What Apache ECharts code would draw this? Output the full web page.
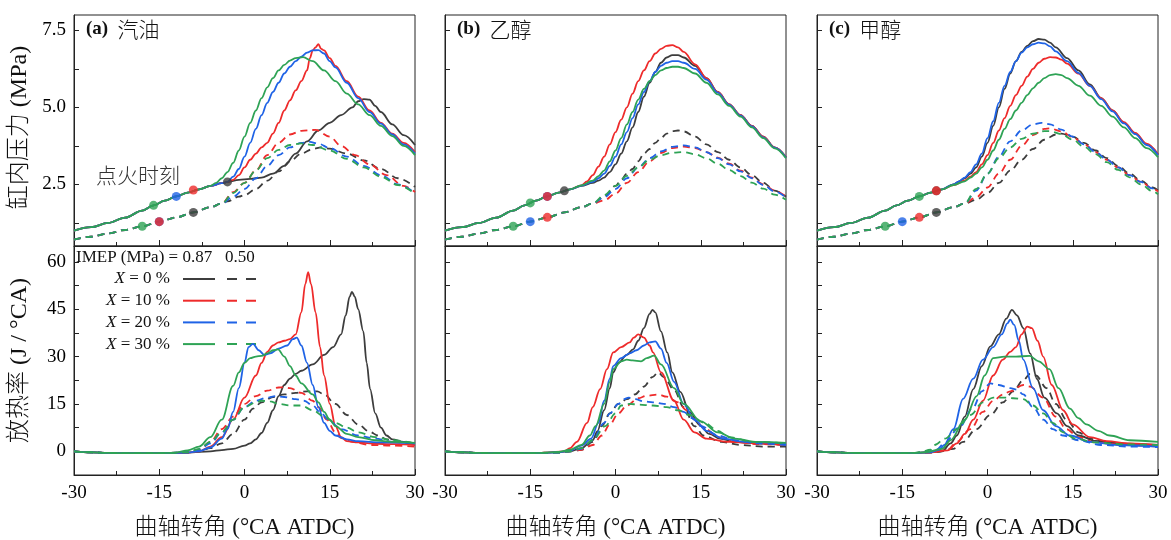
<!DOCTYPE html>
<html>
<head>
<meta charset="utf-8">
<title>缸内压力与放热率</title>
<script src="https://cdn.jsdelivr.net/npm/echarts@6/dist/echarts.min.js"></script>
<style>
  html, body { margin: 0; padding: 0; background: #fff; }
  #main { width: 1171px; height: 540px; }
</style>
</head>
<body>
<div id="main"></div>
<script>
// ---- data (x = °CA ATDC) ----
const xTicks = [-30, -15, 0, 15, 30];
const pLabels = [2.5, 5.0, 7.5];
const pTicks = [1.25, 2.5, 3.75, 5.0, 6.25, 7.5];
const hLabels = [0, 15, 30, 45, 60];
const hTicks = [0, 7.5, 15, 22.5, 30, 37.5, 45, 52.5, 60];
const fuels = ['汽油', '乙醇', '甲醇'];
const tags = ['(a)', '(b)', '(c)'];
const xRatios = ['0', '10', '20', '30'];
const colors = ['#3d3d3d', '#ee2b2b', '#1f63e6', '#2ea355'];

// compression parts shared before ignition
const pBaseHi = [[-30,1.0],[-27,1.11],[-24,1.25],[-21,1.42],[-18,1.65],[-16,1.82],[-14,1.97],[-12,2.11],[-10,2.23],[-8,2.34],[-6,2.45],[-4,2.54],[-3,2.58]];
const pBaseLo = [[-30,0.71],[-27,0.8],[-24,0.91],[-21,1.02],[-18,1.14],[-15,1.29],[-12,1.43],[-9,1.59],[-6,1.76],[-4,1.88]];
const hBase = [[-30,0],[-27,-0.3],[-24,-0.5],[-20,-0.6],[-16,-0.6],[-13,-0.5]];

// (a) 汽油 pressure, IMEP 0.87 (solid)
const pA_K = [[-1,2.65],[1,2.68],[3,2.72],[5,2.85],[7,3.1],[9,3.5],[11,3.9],[13,4.25],[15,4.5],[17,4.75],[19,5.0],[20,5.2],[21,5.27],[22,5.25],[23,5.05],[24,4.85],[26,4.45],[28,4.1],[30,3.78]];
const pA_R = [[-2,2.65],[-1,2.8],[0,3.05],[1,3.3],[2,3.5],[3,3.7],[4,3.85],[5,4.15],[6,4.5],[7,4.9],[8,5.23],[9,5.55],[10,5.85],[11,6.2],[11.5,6.6],[12,6.85],[12.5,6.95],[13,7.05],[13.5,6.9],[14,6.85],[15,6.6],[16,6.35],[18,5.85],[20,5.35],[22,4.9],[24,4.5],[26,4.15],[28,3.85],[30,3.55]];
const pA_B = [[-2,2.75],[-1,3.0],[0,3.4],[1,3.85],[2,4.3],[3,4.75],[4,5.15],[5,5.5],[6,5.8],[7,6.1],[8,6.32],[9,6.5],[10,6.65],[11,6.78],[12,6.85],[13,6.86],[14,6.75],[15,6.5],[16,6.3],[18,5.8],[20,5.3],[22,4.85],[24,4.47],[26,4.12],[28,3.8],[30,3.5]];
const pA_G = [[-5,2.55],[-4,2.7],[-3,2.9],[-2,3.2],[-1,3.6],[0,4.05],[1,4.5],[2,4.9],[3,5.3],[4,5.65],[5,5.95],[6,6.2],[7,6.38],[8,6.52],[9,6.6],[10.3,6.63],[12,6.5],[14,6.2],[16,5.85],[18,5.45],[20,5.1],[22,4.75],[24,4.4],[26,4.07],[28,3.75],[30,3.45]];
// (a) 汽油 pressure, IMEP 0.50 (dashed)
const pA_k = [[-3,1.95],[-1,2.1],[0,2.15],[2,2.35],[4,2.62],[6,2.92],[8,3.25],[10,3.5],[12,3.65],[13.5,3.7],[15,3.66],[18,3.5],[21,3.28],[24,3.0],[27,2.7],[30,2.42]];
const pA_r = [[-2,2.25],[0,2.55],[2,2.95],[4,3.45],[6,3.85],[8,4.12],[10,4.24],[12.5,4.27],[15,4.05],[17,3.75],[19.5,3.45],[22,3.15],[25,2.8],[28,2.45],[30,2.25]];
const pA_b = [[-2,2.1],[0,2.35],[2,2.7],[4,3.1],[6,3.45],[8,3.7],[10,3.85],[11.5,3.88],[13,3.82],[15,3.68],[18,3.4],[21,3.1],[24,2.8],[27,2.5],[30,2.22]];
const pA_g = [[-2,2.22],[0,2.55],[2,2.95],[4,3.35],[6,3.62],[8,3.78],[10,3.83],[12,3.78],[15,3.6],[18,3.33],[21,3.05],[24,2.75],[27,2.48],[30,2.2]];

// (b) 乙醇 pressure
const pB_K = [[-6,2.45],[-4,2.55],[-3,2.62],[-2,2.72],[-1,2.9],[0,3.15],[1,3.5],[2,3.9],[3,4.35],[4,4.85],[5,5.35],[6,5.8],[7,6.15],[8,6.45],[9,6.62],[10,6.7],[11,6.7],[12,6.62],[14,6.35],[16,5.95],[18,5.5],[20,5.1],[22,4.75],[24,4.4],[26,4.05],[28,3.7],[30,3.38]];
const pB_R = [[-6,2.47],[-5,2.6],[-4,2.8],[-3,3.08],[-2,3.4],[-1,3.8],[0,4.2],[1,4.6],[2,5.0],[3,5.45],[4,5.85],[5,6.2],[6,6.5],[7,6.75],[8,6.9],[9,7.0],[10,7.02],[11,6.95],[12,6.8],[14,6.4],[16,5.95],[18,5.5],[20,5.1],[22,4.75],[24,4.4],[26,4.05],[28,3.7],[30,3.38]];
const pB_B = [[-6,2.46],[-4,2.58],[-3,2.7],[-2,2.85],[-1,3.1],[0,3.4],[1,3.8],[2,4.2],[3,4.65],[4,5.1],[5,5.5],[6,5.85],[7,6.15],[8,6.35],[9,6.45],[10,6.5],[11,6.5],[12,6.45],[14,6.25],[16,5.9],[18,5.48],[20,5.08],[22,4.73],[24,4.38],[26,4.03],[28,3.69],[30,3.37]];
const pB_G = [[-6,2.47],[-4,2.62],[-3,2.77],[-2,2.95],[-1,3.25],[0,3.6],[1,4.0],[2,4.45],[3,4.85],[4,5.25],[5,5.6],[6,5.85],[7,6.05],[8,6.2],[9,6.28],[10,6.32],[11,6.32],[12,6.28],[14,6.1],[16,5.8],[18,5.42],[20,5.05],[22,4.7],[24,4.35],[26,4.0],[28,3.67],[30,3.35]];
const pB_k = [[-2,2.1],[0,2.45],[1,2.65],[2,2.85],[3,3.0],[4,3.25],[5,3.5],[6,3.65],[7,3.85],[8,4.0],[9,4.15],[10,4.23],[11,4.25],[12,4.22],[14,4.05],[16,3.8],[18,3.55],[20,3.3],[22,3.05],[24,2.8],[26,2.55],[28,2.3],[30,2.1]];
const pB_r = [[-2,1.98],[0,2.2],[2,2.55],[4,2.9],[6,3.25],[8,3.52],[10,3.68],[12,3.73],[14,3.68],[16,3.55],[18,3.37],[20,3.17],[22,2.95],[24,2.72],[26,2.5],[28,2.3],[30,2.1]];
const pB_b = [[-2,2.08],[0,2.35],[2,2.7],[4,3.05],[6,3.35],[8,3.57],[10,3.72],[12,3.77],[14,3.7],[16,3.55],[18,3.35],[20,3.15],[22,2.92],[24,2.7],[26,2.48],[28,2.27],[30,2.08]];
const pB_g = [[-2,2.15],[0,2.45],[2,2.78],[4,3.05],[6,3.3],[8,3.45],[10,3.53],[12,3.55],[14,3.48],[16,3.35],[18,3.17],[20,2.97],[22,2.77],[24,2.56],[26,2.36],[28,2.17],[30,2.0]];

// (c) 甲醇 pressure
const pC_K = [[-6,2.5],[-5,2.6],[-4,2.7],[-3,2.85],[-2,3.05],[-1,3.4],[0,3.85],[1,4.4],[2,5.0],[3,5.6],[4,6.1],[5,6.5],[6,6.8],[7,7.0],[8,7.15],[9,7.22],[10,7.2],[11,7.1],[12,6.95],[14,6.6],[16,6.2],[18,5.75],[20,5.3],[22,4.9],[24,4.5],[26,4.15],[28,3.8],[30,3.47]];
const pC_R = [[-6,2.48],[-4,2.62],[-3,2.75],[-2,2.9],[-1,3.15],[0,3.45],[1,3.85],[2,4.25],[3,4.65],[4,5.05],[5,5.4],[6,5.7],[7,6.0],[8,6.25],[9,6.45],[10,6.58],[11,6.63],[12,6.62],[13,6.55],[14,6.42],[16,6.1],[18,5.7],[20,5.3],[22,4.9],[24,4.52],[26,4.17],[28,3.82],[30,3.48]];
const pC_B = [[-6,2.5],[-5,2.6],[-4,2.72],[-3,2.9],[-2,3.15],[-1,3.5],[0,4.0],[1,4.55],[2,5.15],[3,5.7],[4,6.15],[5,6.5],[6,6.78],[7,6.95],[8,7.05],[9,7.1],[10,7.08],[11,6.98],[12,6.82],[14,6.5],[16,6.12],[18,5.7],[20,5.27],[22,4.87],[24,4.48],[26,4.13],[28,3.78],[30,3.45]];
const pC_G = [[-6,2.48],[-4,2.6],[-3,2.72],[-2,2.85],[-1,3.05],[0,3.3],[1,3.6],[2,3.95],[3,4.3],[4,4.62],[5,4.9],[6,5.15],[7,5.4],[8,5.62],[9,5.8],[10,5.95],[11,6.05],[12,6.08],[13,6.05],[14,5.95],[16,5.7],[18,5.38],[20,5.05],[22,4.7],[24,4.35],[26,4.0],[28,3.68],[30,3.38]];
const pC_k = [[-2,2.0],[0,2.22],[2,2.55],[4,2.95],[6,3.3],[8,3.65],[10,3.95],[12,4.12],[13,4.15],[15,4.05],[17,3.85],[19,3.6],[21,3.35],[23,3.1],[25,2.85],[27,2.62],[29,2.4],[30,2.3]];
const pC_r = [[-2,2.08],[0,2.4],[2,2.85],[4,3.3],[6,3.75],[8,4.1],[10,4.3],[11,4.32],[13,4.22],[15,4.03],[17,3.8],[19,3.55],[21,3.3],[23,3.05],[25,2.8],[27,2.58],[29,2.37],[30,2.27]];
const pC_b = [[-2,2.3],[0,2.85],[2,3.4],[4,3.9],[6,4.25],[8,4.45],[9.5,4.5],[11,4.45],[13,4.28],[15,4.05],[17,3.8],[19,3.55],[21,3.3],[23,3.05],[25,2.8],[27,2.58],[29,2.37],[30,2.27]];
const pC_g = [[-2,2.35],[0,2.85],[2,3.35],[4,3.7],[6,3.98],[8,4.15],[10,4.23],[11,4.23],[13,4.13],[15,3.95],[17,3.72],[19,3.48],[21,3.22],[23,2.97],[25,2.73],[27,2.5],[29,2.28],[30,2.18]];

// heat release rate (J/°CA)
const hA_K = [[-10,-0.4],[-6,0],[-4,0.4],[-2,0.8],[0,1.8],[1,2.5],[2,3.8],[3,5.8],[4,9],[5,13],[6,17.5],[7,21],[8,23],[9,24.5],[10,25.5],[12,27.5],[14,30.5],[15.6,33],[17,37],[17.8,43],[18.5,49],[18.9,50.5],[19.4,49],[20,45],[20.9,38],[21.5,28],[22.1,19.7],[23,12],[24,7.5],[25,5],[26,3.8],[28,3],[30,2.5]];
const hA_R = [[-10,-0.4],[-8,0],[-6,1.5],[-4,4.5],[-2,10],[0,17],[2,24],[3,28],[4,31.5],[5,33.5],[6,34.5],[7,35],[8,35.5],[9,37],[10,44],[10.7,53],[11.2,56.7],[11.7,53],[12.5,44],[13.3,33],[14,24],[15,15],[16,8],[17,4.5],[18,3.2],[20,2.8],[22,2.5],[25,2.3],[28,2.2],[30,2]];
const hA_B = [[-10,-0.4],[-8,0],[-6,1.2],[-4,4],[-3,7],[-2,12.5],[-1,20],[0,28],[0.7,33],[1.5,34],[2.5,32],[3.5,30.5],[4.5,31],[6,32.5],[7.5,33.5],[8.5,35.5],[9.2,36],[10,33.5],[11,28],[12,21],[13,14],[14,9],[15,6.5],[16,5],[18,3.8],[20,3.2],[24,2.8],[30,2.5]];
const hA_G = [[-12,-0.4],[-10,0.3],[-8,1.5],[-6,4.5],[-4,10],[-2,20.7],[-1,25],[0,28],[1,29.5],[2,30],[3,30.2],[4,31],[5,32],[5.9,32.3],[7,30],[8,27],[9,24],[10,21.5],[12,18],[13,15.5],[14,12.5],[15,10],[16,8],[18,5.5],[20,4.5],[23,3.5],[26,3],[30,2.7]];
const hA_k = [[-10,-0.4],[-8,0],[-6,1],[-4,2.5],[-2,5.5],[0,10],[1.5,13.5],[3,15.5],[5,17.2],[7,18],[9,18.5],[11,19],[12.8,19],[14,18],[16,15],[18,11.5],[20,8.5],[22,6.2],[23.5,5],[25,3.8],[27,2.8],[30,2]];
const hA_r = [[-10,-0.4],[-8,0.5],[-6,3],[-4,7],[-2,11],[0,15],[2,17.5],[4,19.2],[6,20.2],[7,20.3],[8,20],[10,18.5],[12,16],[13,14],[14.5,10],[16,6],[17,4.2],[19,3],[22,2],[26,1.8],[30,1.5]];
const hA_b = [[-10,-0.3],[-8,0.5],[-6,2.5],[-4,6],[-2,10],[0,14],[2,16],[4,17],[5.5,17.5],[7,17.2],[9,16.5],[10.5,16],[12,14.5],[13.5,12],[15,9.5],[17,7],[20,5],[23,4],[26,3],[30,2.5]];
const hA_g = [[-10,-0.3],[-8,0.8],[-6,3],[-4,6],[-2,10],[0,14],[2,15.5],[3,16],[4.5,15.8],[6,15],[8,14.5],[10,14.5],[12,13],[14,11],[16,9],[18,7.5],[20,6],[23,4.5],[26,3.5],[30,2.5]];

const hB_K = [[-12,-0.4],[-8,0],[-6,1],[-4,3.5],[-3.2,6.3],[-2,13],[-1,20],[-0.4,25],[0.5,28],[2,30.5],[3.1,32.3],[4,35],[5,39],[6,43.5],[6.5,44.8],[7,44],[8,38],[9.1,31.3],[10,25],[11.4,18.8],[13,12.5],[14.9,8.2],[16.5,5.5],[18.4,4],[21,3],[25,2.5],[30,2]];
const hB_R = [[-12,-0.4],[-9,0],[-8,1],[-6.8,3],[-5,9],[-4,14],[-2.7,19.7],[-1.5,26],[-0.4,31.3],[1,33],[2.5,34.5],[3.2,36],[4,37],[5,36],[6,33.5],[6.6,31.3],[8,25],[10.3,16],[12,10],[13.9,6],[16,4],[20,3],[25,2.5],[30,2]];
const hB_B = [[-10,-0.3],[-8,0.3],[-6,1.8],[-4.3,4],[-3,9],[-2,16],[-1,23],[-0.4,27],[1,29.5],[2.5,31],[3.7,32],[5,33.5],[6,34.5],[7,34.8],[8,32.5],[9,28],[10.3,22],[12,15],[13.9,10],[16,6.5],[19,4],[23,3],[30,2.5]];
const hB_G = [[-10,-0.2],[-8,0.5],[-6,2],[-4.5,5],[-3.5,8],[-2,15],[-1,22],[-0.4,26],[1,28.5],[2,29],[3,28.8],[4.5,28.5],[5.5,29.5],[6.8,30.3],[8,27.5],[10.3,20],[12,15],[15,9.5],[18,6],[21,4],[25,3],[30,2.7]];
const hB_k = [[-10,-0.4],[-8,0],[-6,0.5],[-4,3],[-2.4,8],[-1,12],[0.5,15],[2,16.5],[3.4,18],[5,20.5],[6.5,23.5],[7.5,25],[8.5,23.5],[10.3,19.5],[12,14],[13.9,8],[15.5,5],[18.6,3],[22,2],[26,1.5],[30,1.5]];
const hB_r = [[-10,-0.4],[-8,0],[-6,0.5],[-4,2],[-2.4,5],[-1,8.5],[0.5,12],[2,14.5],[4,16.8],[5.5,17.6],[7.5,18],[9,17.3],[11,15.5],[12.5,13],[14,10],[15.5,7.5],[18,4.5],[21,3],[25,2.3],[30,2]];
const hB_b = [[-10,-0.4],[-8,0],[-6,0.8],[-4,3.5],[-2,9],[-1,12],[0.5,15],[1.5,16.5],[2.3,17],[3.5,16.5],[5,15.8],[6.6,15.5],[8.5,15],[10.3,14],[12,12.5],[13.5,10.5],[15,8],[18,5],[21,3.5],[25,2.5],[30,2]];
const hB_g = [[-10,-0.4],[-8,0],[-6,1],[-4,3.5],[-1.8,8],[0,12],[1,14.5],[2.5,15],[4,14.8],[6.6,14.5],[9,14],[11,13],[13,11.5],[15.7,9],[18,6.5],[20,4.5],[24,3],[30,2.5]];

const hC_K = [[-10,-0.3],[-8,0],[-6.5,2.5],[-5.4,5],[-4,11],[-2.5,19.7],[-1,27],[0.5,33.2],[2,37],[3.3,42],[4.3,44.8],[5.2,43],[6.3,39],[7.5,31],[8.7,22.9],[10,17],[12.2,12],[14,8],[16,5],[19,3.3],[23,2.5],[30,2]];
const hC_R = [[-10,-0.3],[-7,0.3],[-5.4,2.5],[-4,5.5],[-2.5,10],[-0.8,16],[1,24],[2.7,29],[4,31.5],[5,33],[6,37],[7,39.5],[7.8,39],[8.8,35],[9.8,30],[11.3,21],[13.3,13],[15,8.5],[18,4.5],[21,3.2],[25,2.5],[30,2]];
const hC_B = [[-10,-0.3],[-8.5,0.5],[-7.6,2],[-6,7],[-4.3,16.6],[-2.5,23],[-0.8,29],[1,33],[2.5,37],[3.5,40.5],[4,41.7],[4.7,40],[5.5,35],[6.3,29],[8,20],[9.8,13],[12,8],[14.5,5],[18,3],[23,2],[30,1.5]];
const hC_G = [[-11,-0.3],[-8,0.8],[-6.5,3.5],[-4,10],[-1.9,17.5],[-0.5,24],[1,29.5],[3,30],[5,30],[7.4,30.2],[9,28.5],[10.9,26],[12.5,20],[14.5,13.5],[16,10.5],[17.4,8.5],[19.5,6.5],[21.5,5],[25,3.5],[30,3]];
const hC_k = [[-10,-0.4],[-9,-0.2],[-6,0.8],[-4.3,3],[-2,7],[0.5,11.5],[2.7,15.5],[4.5,19],[6.3,22.5],[7.5,24.5],[8.5,24],[10.4,20],[12,15],[13.9,10],[16,6],[18,4],[21,2.8],[25,2],[30,1.5]];
const hC_r = [[-10,-0.3],[-7,0.5],[-5.4,3],[-3,7],[-0.8,12.5],[1,16],[2.7,18],[4,19],[6.3,21],[7.5,20.5],[9.8,17],[12,11],[13.9,7],[16,4.5],[19,2.8],[24,2],[30,1.5]];
const hC_b = [[-11,-0.3],[-9,0.5],[-7.6,2.5],[-5,7.5],[-2.5,14],[-1,19],[0.5,21.5],[2,21],[4,20],[5.2,19.5],[6.3,18],[8,14],[9.8,10],[11.5,7],[13.3,5],[16,3.5],[20,2],[25,1.5],[30,1.3]];
const hC_g = [[-12,-0.3],[-10,0.5],[-9.3,2],[-7.5,4],[-5.4,7],[-3,11.5],[-0.8,15.5],[1,17],[3,17],[4.5,16.8],[6.3,16.5],[8,14.5],[9.8,12],[11.5,9],[13.3,6],[15.5,4],[19,2.8],[24,2.2],[30,2]];

// ignition markers [x, p, colour index]
const ignA = [[-9,1.59,0],[-15,1.29,2],[-15,1.29,1],[-18,1.14,3],[-3,2.58,0],[-9,2.32,1],[-12,2.11,2],[-16,1.82,3]];
const ignB = [[-12,1.43,1],[-15,1.29,2],[-18,1.14,3],[-9,2.29,0],[-12,2.11,2],[-12,2.11,1],[-15,1.9,3]];
const ignC = [[-9,1.59,0],[-12,1.43,1],[-15,1.29,2],[-18,1.14,3],[-9,2.29,0],[-9,2.29,1],[-12,2.11,3]];

// ---- assemble ----
function withBase(base, part) {
  return base.filter(p => p[0] < part[0][0]).concat(part);
}
const pressHi = [[pA_K, pA_R, pA_B, pA_G], [pB_K, pB_R, pB_B, pB_G], [pC_K, pC_R, pC_B, pC_G]];
const pressLo = [[pA_k, pA_r, pA_b, pA_g], [pB_k, pB_r, pB_b, pB_g], [pC_k, pC_r, pC_b, pC_g]];
const hrrHi = [[hA_K, hA_R, hA_B, hA_G], [hB_K, hB_R, hB_B, hB_G], [hC_K, hC_R, hC_B, hC_G]];
const hrrLo = [[hA_k, hA_r, hA_b, hA_g], [hB_k, hB_r, hB_b, hB_g], [hC_k, hC_r, hC_b, hC_g]];
const ign = [ignA, ignB, ignC];

const serif = "'Liberation Serif', 'Times New Roman', 'Noto Sans CJK SC', serif";
const cjk = "'Liberation Serif', 'Noto Sans CJK SC', sans-serif";
const panelLeft = [74, 445, 817];
const panelW = 341;

const grids = [], xAxes = [], yAxes = [], series = [];
for (let c = 0; c < 3; c++) {
  for (let r = 0; r < 2; r++) {
    const gi = c * 2 + r;
    const top = r === 0;
    grids.push({
      left: panelLeft[c], width: panelW,
      top: top ? 15 : 246, height: top ? 231 : 230,
      show: true, borderColor: '#222', borderWidth: 1, backgroundColor: 'transparent'
    });
    xAxes.push({
      type: 'value', gridIndex: gi, min: -30, max: 30, interval: 15, position: 'bottom',
      axisLine: { show: true, onZero: false, lineStyle: { color: '#222', width: 1 } },
      axisTick: { inside: true, length: 6, lineStyle: { color: '#222' } },
      minorTick: { show: true, splitNumber: 2, length: 4, lineStyle: { color: '#222' } },
      splitLine: { show: false },
      axisLabel: { show: !top, color: '#000', fontFamily: serif, fontSize: 19, margin: 9,
        customValues: xTicks },
      name: top ? '' : '曲轴转角 (°CA ATDC)',
      nameLocation: 'middle', nameGap: 41,
      nameTextStyle: { color: '#111', fontFamily: cjk, fontSize: 23, fontWeight: 300 }
    });
    yAxes.push({
      type: 'value', gridIndex: gi, position: 'left',
      min: top ? 0.5 : -7.5, max: top ? 8.0 : 65,
      axisLine: { show: true, onZero: false, lineStyle: { color: '#222', width: 1 } },
      axisTick: { inside: true, length: 5, lineStyle: { color: '#222' },
        customValues: top ? pTicks : hTicks },
      splitLine: { show: false },
      axisLabel: { show: c === 0, color: '#000', fontFamily: serif, fontSize: 19, margin: 8,
        customValues: top ? pLabels : hLabels,
        formatter: v => top ? v.toFixed(1) : String(v) },
      name: c === 0 ? (top ? '缸内压力 (MPa)' : '放热率 (J / °CA)') : '',
      nameLocation: 'middle', nameGap: 42, nameRotate: 90,
      nameTextStyle: { color: '#111', fontFamily: cjk, fontSize: 24, fontWeight: 300,
        padding: top ? [0, 0, 0, 6] : [0, 0, 0, 0] }
    });

    for (let k = 0; k < 4; k++) {
      const hi = top ? withBase(pBaseHi, pressHi[c][k]) : withBase(hBase, hrrHi[c][k]);
      const lo = top ? withBase(pBaseLo, pressLo[c][k]) : withBase(hBase, hrrLo[c][k]);
      [[lo, true], [hi, false]].forEach(([d, dashed]) => {
        series.push({
          type: 'line', xAxisIndex: gi, yAxisIndex: gi, data: d,
          symbol: 'none', smooth: 0.35, smoothMonotone: 'x', silent: true,
          lineStyle: { color: colors[k], width: 1.8, type: dashed ? [7, 5] : 'solid' },
          z: 2 + k
        });
      });
    }
    if (top) {
      series.push({
        type: 'scatter', xAxisIndex: gi, yAxisIndex: gi, symbolSize: 9, z: 10,
        data: ign[c].map(p => ({ value: [p[0], p[1]], itemStyle: { color: colors[p[2]] } }))
      });
    }
  }
}

// titles, annotation and legend
const graphic = [];
for (let c = 0; c < 3; c++) {
  graphic.push({ type: 'text', left: panelLeft[c] + 12, top: 19,
    style: { text: '{b|' + tags[c] + '}  ' + fuels[c], font: "300 21px 'Noto Sans CJK SC'", fill: '#111',
      rich: { b: { fontFamily: serif, fontWeight: 'bold', fontSize: 19 } } } });
}
graphic.push({ type: 'text', left: 96, top: 165,
  style: { text: '点火时刻', font: "300 21px 'Noto Sans CJK SC'", fill: '#333' } });
graphic.push({ type: 'text', left: 76, top: 249,
  style: { text: 'IMEP (MPa) = 0.87   0.50', font: "17px " + serif, fill: '#111' } });
for (let k = 0; k < 4; k++) {
  const y = 279 + k * 21.7;
  graphic.push({ type: 'text', x: 170, y: y,
    style: { text: '{i|X} = ' + xRatios[k] + ' %', font: "17px " + serif, fill: '#111',
      align: 'right', verticalAlign: 'middle', rich: { i: { fontStyle: 'italic', fontFamily: serif, fontSize: 17 } } } });
  graphic.push({ type: 'line', shape: { x1: 183, y1: y, x2: 215, y2: y },
    style: { stroke: colors[k], lineWidth: 2 } });
  graphic.push({ type: 'line', shape: { x1: 227, y1: y, x2: 257, y2: y },
    style: { stroke: colors[k], lineWidth: 2, lineDash: [10, 9] } });
}

const chart = echarts.init(document.getElementById('main'));
chart.setOption({
  backgroundColor: '#fff',
  animation: false,
  grid: grids,
  xAxis: xAxes,
  yAxis: yAxes,
  series: series,
  graphic: graphic
});
</script>
</body>
</html>
